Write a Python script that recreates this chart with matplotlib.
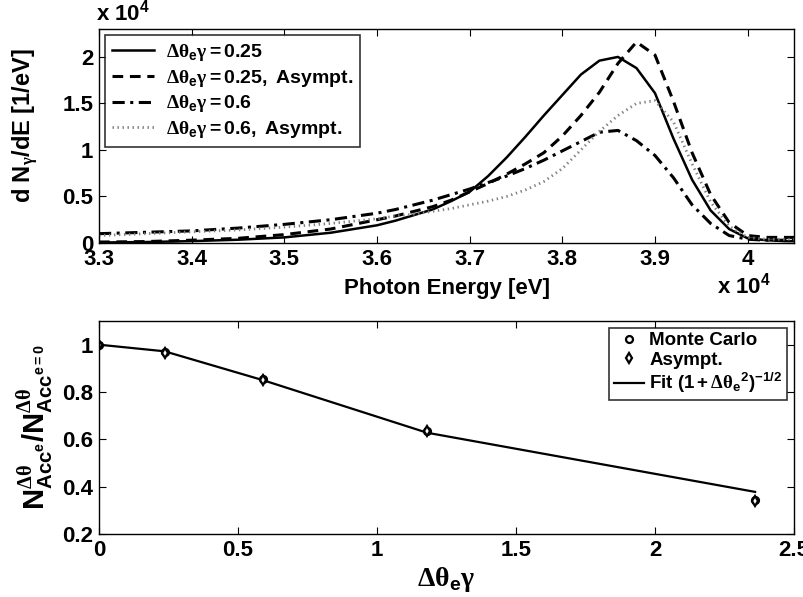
import numpy as np
import matplotlib
matplotlib.use('Agg')
import matplotlib.pyplot as plt
import matplotlib.ticker as mtick

# photon energy grid [eV]
energy = [33000, 33500, 34000, 34500, 35000, 35500, 36000, 36200, 36400, 36600,
          36800, 37000, 37200, 37400, 37600, 37800, 38000, 38200, 38400, 38600,
          38800, 39000, 39200, 39400, 39600, 39800, 40000, 40200, 40400, 40500]

# dN/dE [1/eV]
spec_025 = [50, 100, 200, 350, 600, 1100, 1900, 2400, 3000, 3600,
            4500, 5500, 7200, 9200, 11400, 13700, 15900, 18100, 19600, 20000,
            18800, 16100, 11200, 6800, 3500, 1500, 500, 300, 200, 200]
spec_025_asym = [100, 150, 300, 500, 900, 1500, 2500, 2900, 3400, 3900,
                 4600, 5500, 6400, 7400, 8500, 9700, 11500, 13700, 16200, 19300,
                 21600, 20200, 15200, 9700, 5200, 2200, 800, 600, 600, 600]
spec_06 = [1000, 1150, 1300, 1600, 2000, 2500, 3200, 3600, 4100, 4600,
           5200, 5800, 6500, 7200, 8000, 8900, 9900, 10900, 11900, 12100,
           11000, 9400, 7000, 4100, 2100, 800, 400, 300, 300, 300]
spec_06_asym = [800, 1000, 1200, 1400, 1700, 2100, 2600, 2900, 3100, 3400,
                3700, 4100, 4500, 5000, 5700, 6600, 8000, 10000, 12000, 13700,
                15000, 15300, 13000, 8500, 4400, 1800, 600, 400, 400, 400]

# acceptance ratio vs angular spread
spread = [0.0, 0.236, 0.59, 1.18, 2.36]
ratio_mc = [1.0, 0.97, 0.855, 0.635, 0.345]
ratio_asym = [1.0, 0.965, 0.85, 0.635, 0.338]
ratio_fit = [1.0, 0.972, 0.85, 0.628, 0.378]

plt.rcParams['font.family'] = 'Liberation Sans'
plt.rcParams['font.weight'] = 'bold'
plt.rcParams['mathtext.fontset'] = 'custom'
plt.rcParams['mathtext.rm'] = 'Liberation Serif'
plt.rcParams['mathtext.it'] = 'Liberation Serif'
plt.rcParams['mathtext.bf'] = 'Liberation Sans:bold'
plt.rcParams['mathtext.default'] = 'bf'
plt.rcParams['axes.linewidth'] = 1.0

fs = 16
dth = r'\mathrm{Δθ}'
gam = r'\mathrm{γ}'

def lab(txt):
    return r'$' + dth + r'_{\mathbf{e}}' + gam + r'\mathbf{' + txt + r'}$'

fig = plt.figure(figsize=(8.04, 5.97), dpi=100)
ax1 = fig.add_axes([0.1231, 0.5930, 0.8645, 0.3584])
ax2 = fig.add_axes([0.1231, 0.1055, 0.8645, 0.3568])

ax1.plot(energy, spec_025, 'k-', linewidth=1.8, label=lab(r'=0.25'))
ax1.plot(energy, spec_025_asym, 'k--', linewidth=2.2, dashes=(3.5, 2.2), label=lab(r'=0.25,\ Asympt.'))
ax1.plot(energy, spec_06, color='k', linewidth=2.2, dashes=(4, 1.8, 1, 1.8), label=lab(r'=0.6'))
ax1.plot(energy, spec_06_asym, color='0.5', linewidth=2.0, dashes=(0.5, 1.3), label=lab(r'=0.6,\ Asympt.'))
ax1.set_xlim(33000, 40500)
ax1.set_ylim(0, 23000)
ax1.xaxis.set_major_locator(mtick.MultipleLocator(1000))
ax1.yaxis.set_major_locator(mtick.MultipleLocator(5000))
ax1.xaxis.set_major_formatter(mtick.FuncFormatter(lambda v, p: ('%g' % (v / 1e4))))
ax1.yaxis.set_major_formatter(mtick.FuncFormatter(lambda v, p: ('%g' % (v / 1e4))))
ax1.set_xlabel('Photon Energy [eV]', fontsize=fs, fontweight='bold', labelpad=6)
ax1.set_ylabel(r'd N$_{\mathrm{γ}}$/dE [1/eV]', fontsize=17, fontweight='bold')
ax1.yaxis.set_label_coords(-0.083, 0.55)
leg = ax1.legend(loc='upper left', prop={'size': 14, 'weight': 'normal'}, frameon=True,
                 fancybox=False, edgecolor='k', handlelength=2.2, borderaxespad=0.3,
                 labelspacing=0.25, borderpad=0.35, handletextpad=0.6)
leg.get_frame().set_linewidth(1.2)
fig.text(0.120, 0.958, r'x 10$^{\mathbf{4}}$', fontsize=fs, fontweight='bold', ha='left', va='bottom')
fig.text(0.892, 0.500, r'x 10$^{\mathbf{4}}$', fontsize=fs, fontweight='bold', ha='left', va='bottom')

ax2.plot(spread, ratio_fit, 'k-', linewidth=1.6,
         label=r'$\mathbf{Fit\ (1+}' + dth + r'_{\mathbf{e}}{}^{\mathbf{2}}\mathbf{)}^{\mathbf{-1/2}}$')
ax2.plot(spread, ratio_mc, 'ko', markersize=5, mfc='white', mew=1.6, linestyle='none', label='Monte Carlo')
ax2.plot(spread, ratio_asym, 'kd', markersize=5.5, mfc='white', mew=1.6, linestyle='none', label='Asympt.')
ax2.set_xlim(0, 2.5)
ax2.set_ylim(0.2, 1.1)
ax2.xaxis.set_major_locator(mtick.MultipleLocator(0.5))
ax2.yaxis.set_major_locator(mtick.MultipleLocator(0.2))
ax2.xaxis.set_major_formatter(mtick.FuncFormatter(lambda v, p: '%g' % v))
ax2.yaxis.set_major_formatter(mtick.FuncFormatter(lambda v, p: '%g' % round(v, 1)))
ax2.set_xlabel(r'$' + dth + r'_{\mathbf{e}}' + gam + r'$', fontsize=20, fontweight='normal', labelpad=3)
ax2.set_ylabel(r'$\mathbf{N}^{' + dth + r'}_{\mathbf{Acc}^{\mathbf{e}}}\mathbf{/N}^{' + dth
               + r'}_{\mathbf{Acc}^{\mathbf{e=0}}}$', fontsize=21, fontweight='normal')
ax2.yaxis.set_label_coords(-0.063, 0.5)
handles, labels = ax2.get_legend_handles_labels()
order = [1, 2, 0]
leg2 = ax2.legend([handles[i] for i in order], [labels[i] for i in order],
                  loc='upper right', prop={'size': 13.5, 'weight': 'bold'}, frameon=True,
                  fancybox=False, edgecolor='k', handlelength=1.6, borderaxespad=0.35,
                  labelspacing=0.12, borderpad=0.25, handletextpad=0.3)
leg2.get_frame().set_linewidth(1.2)

for ax in (ax1, ax2):
    ax.tick_params(direction='in', top=True, right=True, length=5, width=0.8,
                   labelsize=fs, pad=4)
    for tl in ax.get_xticklabels() + ax.get_yticklabels():
        tl.set_fontweight('bold')

plt.savefig('out.png', dpi=100)
